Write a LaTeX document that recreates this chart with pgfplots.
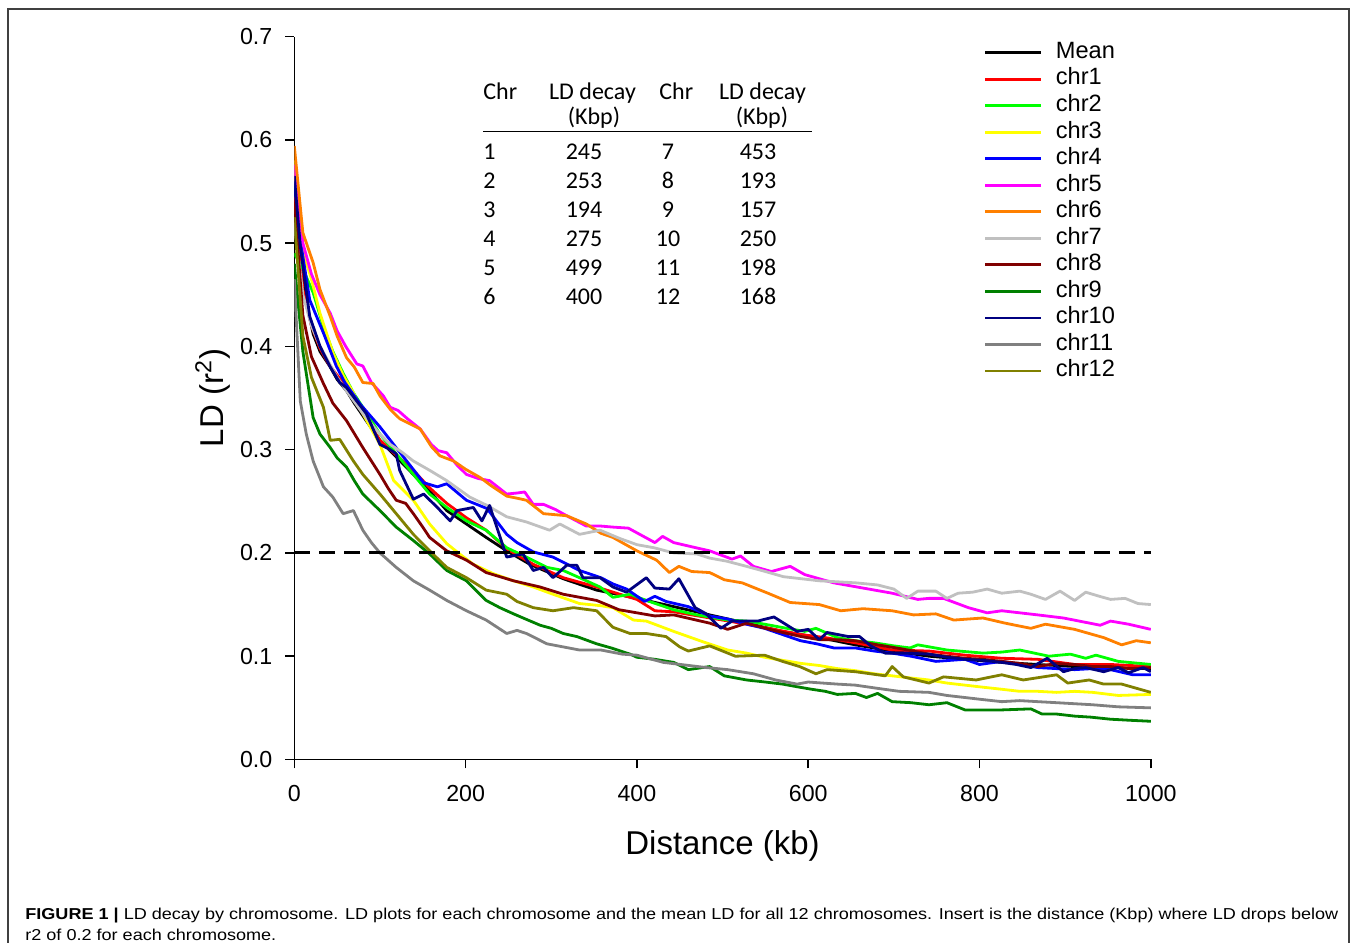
\documentclass[border=0pt]{standalone}
\usepackage{pgfplots}
\pgfplotsset{compat=1.18}
\usepackage{graphicx}
\usepackage{fontspec}
\setmainfont{Liberation Sans}
\newfontfamily\tabfont{Carlito}
\definecolor{cmean}{RGB}{0,0,0}
\definecolor{cA}{RGB}{255,0,0}
\definecolor{cB}{RGB}{0,255,0}
\definecolor{cC}{RGB}{255,255,0}
\definecolor{cD}{RGB}{0,0,255}
\definecolor{cE}{RGB}{255,0,255}
\definecolor{cF}{RGB}{255,128,0}
\definecolor{cG}{RGB}{192,192,192}
\definecolor{cH}{RGB}{128,0,0}
\definecolor{cI}{RGB}{0,128,0}
\definecolor{cJ}{RGB}{0,0,128}
\definecolor{cK}{RGB}{128,128,128}
\definecolor{cL}{RGB}{128,128,0}
\newsavebox\capbox
\newcommand\capfont{\fontsize{7.9bp}{9bp}\selectfont}
\begin{document}
\begin{tikzpicture}
\useasboundingbox (0,0) rectangle (678.5bp,471.5bp);
\draw[black!75, line width=1bp] (4.15bp,-2bp) -- (4.15bp,467bp) -- (674.25bp,467bp) -- (674.25bp,-2bp);
\begin{axis}[
  scale only axis, width=428.25bp, height=361.5bp,
  at={(147.15bp,91.75bp)}, anchor=south west,
  xmin=0, xmax=1000, ymin=0, ymax=0.7,
  axis x line*=bottom, axis y line*=left,
  xtick={0,200,400,600,800,1000},
  ytick={0,0.1,0.2,0.3,0.4,0.5,0.6,0.7},
  tick align=outside, major tick length=4.5bp,
  tick style={black, line width=0.8bp},
  axis line style={black, line width=0.8bp},
  /pgf/number format/assume math mode=true,
  scaled ticks=false,
  xticklabel style={/pgf/number format/1000 sep={}, font=\fontsize{11.6bp}{13bp}\selectfont, yshift=-5bp},
  yticklabel style={/pgf/number format/fixed, /pgf/number format/fixed zerofill, /pgf/number format/precision=1, font=\fontsize{11.6bp}{13bp}\selectfont, xshift=-3bp},
  xlabel={Distance (kb)}, ylabel={LD (r\textsuperscript{2})},
  every axis x label/.style={at={([yshift=-43.25bp]axis description cs:0.5,0)}, anchor=center, font=\fontsize{16.5bp}{18bp}\selectfont},
  every axis y label/.style={at={([xshift=-40.65bp]axis description cs:0,0.5)}, anchor=center, rotate=90, font=\fontsize{16.5bp}{18bp}\selectfont},
  no markers,
  every axis plot/.append style={line width=1.4bp, line join=round},
  legend cell align=left,
  legend image code/.code={\draw[#1] (0bp,0bp) -- (28bp,0bp); \path (34.5bp,0bp);},
  legend style={at={(0.8053,0.9959)}, anchor=north west, draw=none, fill=none, inner sep=0pt, outer sep=0pt, row sep=0pt,
    font=\fontsize{11.8bp}{13bp}\selectfont,
    nodes={inner sep=0pt, text height=9.5bp, text depth=3.76bp}},
]
\addplot[cmean] coordinates {(0,0.553) (10,0.46) (22,0.412) (30,0.395) (42,0.380) (50,0.368) (61,0.357) (70,0.345) (84,0.328) (100,0.309) (119,0.293) (139,0.276) (158,0.260) (178,0.241) (201,0.228) (224,0.215) (248,0.202) (275,0.189) (314,0.175) (353,0.164) (400,0.156) (443,0.148) (485,0.140) (528,0.132) (570,0.124) (613,0.118) (655,0.111) (698,0.105) (741,0.100) (783,0.097) (826,0.094) (868,0.092) (911,0.090) (953,0.089) (1000,0.088)};
\addlegendentry{Mean}
\addplot[cA] coordinates {(0,0.545) (10,0.455) (20,0.42) (30,0.398) (40,0.383) (50,0.372) (61,0.362) (80,0.335) (100,0.309) (120,0.294) (139,0.280) (158,0.263) (178,0.248) (201,0.234) (224,0.222) (248,0.204) (279,0.189) (314,0.176) (353,0.167) (380,0.160) (400,0.155) (421,0.144) (443,0.143) (464,0.140) (500,0.135) (528,0.131) (560,0.126) (591,0.121) (620,0.118) (655,0.113) (698,0.106) (741,0.105) (783,0.101) (826,0.098) (868,0.097) (911,0.092) (953,0.092) (1000,0.090)};
\addlegendentry{chr1}
\addplot[cB] coordinates {(0,0.49) (10,0.475) (22,0.452) (34,0.419) (45,0.395) (57,0.374) (69,0.355) (80,0.341) (100,0.315) (119,0.296) (139,0.276) (158,0.257) (178,0.244) (201,0.231) (224,0.222) (248,0.205) (271,0.196) (295,0.186) (314,0.183) (333,0.176) (357,0.167) (372,0.157) (392,0.160) (411,0.154) (443,0.145) (470,0.140) (506,0.135) (528,0.134) (549,0.131) (575,0.127) (596,0.124) (609,0.127) (634,0.118) (655,0.115) (677,0.113) (700,0.110) (719,0.108) (728,0.111) (762,0.106) (804,0.103) (826,0.104) (847,0.106) (881,0.100) (906,0.102) (924,0.098) (936,0.101) (962,0.095) (1000,0.092)};
\addlegendentry{chr2}
\addplot[cC] coordinates {(0,0.58) (7,0.50) (20,0.465) (30,0.432) (45,0.394) (57,0.372) (69,0.355) (80,0.335) (100,0.305) (116,0.270) (139,0.251) (158,0.228) (178,0.209) (193,0.199) (209,0.189) (232,0.180) (256,0.173) (279,0.167) (302,0.160) (333,0.151) (357,0.149) (372,0.147) (396,0.135) (411,0.134) (443,0.124) (477,0.114) (506,0.106) (528,0.103) (549,0.099) (570,0.096) (592,0.093) (613,0.091) (634,0.088) (655,0.086) (677,0.083) (698,0.081) (719,0.079) (741,0.077) (762,0.074) (783,0.072) (804,0.070) (826,0.068) (847,0.066) (868,0.066) (890,0.065) (911,0.066) (932,0.065) (962,0.062) (1000,0.063)};
\addlegendentry{chr3}
\addplot[cD] coordinates {(0,0.56) (7,0.503) (18,0.445) (34,0.413) (49,0.381) (59,0.365) (77,0.344) (100,0.322) (116,0.305) (135,0.285) (151,0.268) (167,0.264) (178,0.267) (201,0.251) (225,0.243) (248,0.218) (260,0.210) (279,0.201) (302,0.196) (333,0.183) (358,0.176) (372,0.170) (388,0.165) (409,0.153) (421,0.158) (434,0.153) (460,0.148) (485,0.139) (506,0.136) (528,0.131) (549,0.127) (570,0.121) (591,0.115) (610,0.112) (630,0.108) (655,0.108) (677,0.105) (698,0.103) (720,0.100) (749,0.095) (783,0.097) (800,0.092) (826,0.095) (847,0.092) (868,0.089) (890,0.088) (911,0.087) (932,0.088) (953,0.087) (979,0.082) (1000,0.082)};
\addlegendentry{chr4}
\addplot[cE] coordinates {(0,0.576) (10,0.50) (20,0.47) (30,0.45) (42,0.432) (50,0.415) (60,0.40) (73,0.383) (80,0.381) (90,0.365) (104,0.352) (112,0.341) (121,0.338) (132,0.330) (147,0.320) (160,0.305) (168,0.299) (178,0.297) (190,0.285) (201,0.276) (215,0.272) (228,0.270) (248,0.257) (260,0.258) (269,0.259) (279,0.247) (291,0.247) (305,0.242) (318,0.236) (341,0.226) (358,0.226) (372,0.225) (390,0.224) (421,0.210) (430,0.216) (443,0.210) (469,0.205) (485,0.202) (511,0.194) (521,0.197) (536,0.187) (557,0.182) (579,0.187) (596,0.179) (630,0.171) (664,0.166) (698,0.161) (728,0.155) (741,0.156) (758,0.156) (787,0.147) (809,0.142) (826,0.144) (868,0.140) (898,0.137) (941,0.130) (953,0.134) (974,0.131) (1000,0.126)};
\addlegendentry{chr5}
\addplot[cF] coordinates {(0,0.594) (10,0.51) (22,0.481) (30,0.455) (42,0.429) (50,0.41) (61,0.389) (70,0.38) (80,0.365) (92,0.364) (100,0.352) (112,0.339) (123,0.330) (135,0.325) (147,0.320) (160,0.303) (170,0.294) (186,0.289) (200,0.281) (217,0.273) (230,0.265) (248,0.255) (260,0.253) (271,0.251) (291,0.238) (305,0.237) (318,0.236) (341,0.228) (358,0.219) (372,0.215) (400,0.202) (423,0.193) (438,0.181) (449,0.187) (464,0.182) (485,0.181) (502,0.174) (523,0.171) (553,0.161) (579,0.152) (613,0.150) (638,0.144) (664,0.146) (698,0.144) (723,0.140) (749,0.141) (770,0.135) (804,0.137) (830,0.132) (860,0.127) (877,0.131) (911,0.126) (945,0.118) (966,0.111) (983,0.115) (1000,0.113)};
\addlegendentry{chr6}
\addplot[cG] coordinates {(0,0.52) (10,0.45) (20,0.42) (30,0.40) (40,0.385) (50,0.37) (60,0.358) (80,0.335) (100,0.315) (112,0.305) (125,0.298) (139,0.289) (158,0.280) (178,0.270) (205,0.254) (225,0.246) (248,0.235) (271,0.230) (298,0.222) (310,0.228) (333,0.218) (357,0.222) (380,0.214) (400,0.208) (420,0.205) (443,0.200) (470,0.199) (485,0.195) (505,0.192) (528,0.187) (550,0.182) (571,0.177) (592,0.175) (613,0.173) (635,0.172) (656,0.171) (681,0.169) (700,0.165) (715,0.156) (728,0.163) (749,0.163) (762,0.156) (775,0.161) (792,0.162) (809,0.165) (826,0.161) (847,0.163) (860,0.160) (877,0.155) (894,0.163) (911,0.154) (924,0.162) (940,0.158) (953,0.155) (970,0.156) (985,0.151) (1000,0.150)};
\addlegendentry{chr7}
\addplot[cH] coordinates {(0,0.54) (10,0.43) (20,0.39) (34,0.364) (45,0.345) (61,0.328) (80,0.302) (100,0.276) (110,0.262) (119,0.251) (130,0.248) (139,0.238) (150,0.225) (158,0.215) (178,0.202) (201,0.193) (224,0.181) (256,0.173) (287,0.167) (314,0.160) (353,0.154) (379,0.145) (400,0.142) (421,0.139) (443,0.140) (464,0.136) (485,0.132) (506,0.126) (528,0.132) (550,0.127) (570,0.123) (592,0.119) (613,0.116) (635,0.116) (655,0.115) (681,0.111) (710,0.107) (741,0.102) (762,0.100) (783,0.098) (804,0.097) (826,0.095) (847,0.093) (868,0.090) (890,0.093) (911,0.092) (932,0.090) (953,0.090) (975,0.088) (1000,0.089)};
\addlegendentry{chr8}
\addplot[cI] coordinates {(0,0.48) (10,0.395) (22,0.331) (30,0.315) (42,0.302) (50,0.292) (61,0.283) (70,0.27) (80,0.257) (90,0.249) (100,0.241) (119,0.225) (139,0.212) (158,0.199) (178,0.183) (201,0.173) (224,0.154) (240,0.147) (256,0.141) (270,0.136) (287,0.130) (300,0.127) (314,0.122) (330,0.119) (353,0.112) (370,0.108) (392,0.102) (400,0.099) (421,0.097) (443,0.094) (460,0.087) (485,0.090) (502,0.081) (528,0.077) (550,0.075) (570,0.073) (590,0.070) (604,0.068) (620,0.066) (634,0.063) (655,0.064) (668,0.060) (681,0.064) (698,0.056) (720,0.055) (741,0.053) (762,0.055) (783,0.048) (804,0.048) (826,0.048) (860,0.049) (873,0.044) (890,0.044) (911,0.042) (930,0.041) (953,0.039) (975,0.038) (1000,0.037)};
\addlegendentry{chr9}
\addplot[cJ] coordinates {(0,0.565) (7,0.497) (18,0.429) (30,0.400) (42,0.380) (53,0.365) (61,0.360) (72,0.348) (84,0.335) (100,0.305) (112,0.300) (119,0.296) (123,0.280) (139,0.252) (151,0.257) (167,0.244) (182,0.231) (190,0.241) (209,0.244) (219,0.231) (228,0.246) (248,0.196) (267,0.199) (279,0.183) (291,0.186) (302,0.176) (318,0.188) (330,0.188) (337,0.176) (357,0.176) (372,0.167) (388,0.162) (411,0.176) (421,0.166) (438,0.165) (449,0.175) (468,0.147) (481,0.141) (498,0.127) (511,0.134) (541,0.134) (560,0.138) (587,0.124) (600,0.126) (613,0.116) (622,0.123) (647,0.119) (660,0.119) (673,0.110) (690,0.103) (715,0.103) (741,0.102) (762,0.099) (783,0.097) (804,0.096) (826,0.094) (843,0.092) (860,0.089) (879,0.098) (898,0.085) (911,0.088) (924,0.089) (945,0.085) (962,0.089) (974,0.084) (991,0.089) (1000,0.085)};
\addlegendentry{chr10}
\addplot[cK] coordinates {(0,0.465) (7,0.347) (14,0.315) (22,0.289) (34,0.264) (45,0.254) (57,0.238) (69,0.241) (80,0.222) (90,0.21) (100,0.200) (119,0.186) (139,0.173) (158,0.164) (178,0.154) (201,0.144) (224,0.135) (248,0.122) (260,0.125) (271,0.122) (295,0.112) (314,0.109) (333,0.106) (358,0.106) (383,0.102) (400,0.101) (413,0.098) (431,0.094) (451,0.092) (481,0.089) (506,0.087) (536,0.083) (562,0.077) (587,0.073) (600,0.075) (634,0.073) (655,0.072) (680,0.069) (706,0.066) (741,0.065) (762,0.062) (783,0.060) (804,0.058) (826,0.056) (847,0.057) (868,0.056) (890,0.055) (911,0.054) (932,0.053) (962,0.051) (1000,0.050)};
\addlegendentry{chr11}
\addplot[cL] coordinates {(0,0.525) (10,0.41) (20,0.37) (34,0.341) (42,0.309) (53,0.310) (69,0.289) (80,0.276) (100,0.257) (119,0.238) (139,0.218) (158,0.202) (178,0.186) (201,0.176) (224,0.164) (248,0.160) (260,0.153) (279,0.147) (302,0.144) (326,0.147) (353,0.144) (372,0.128) (392,0.122) (411,0.122) (434,0.119) (450,0.109) (460,0.105) (485,0.110) (515,0.100) (549,0.101) (570,0.095) (590,0.090) (609,0.083) (622,0.087) (655,0.085) (690,0.081) (698,0.090) (711,0.080) (741,0.074) (758,0.080) (796,0.077) (826,0.082) (851,0.077) (890,0.082) (903,0.074) (928,0.077) (945,0.073) (966,0.073) (1000,0.065)};
\addlegendentry{chr12}
\addplot[black, line width=1.5bp, dash pattern=on 8bp off 4.5bp, forget plot] coordinates {(0,0.2) (1000,0.2)};
\end{axis}
% inset table
\begin{scope}[every node/.style={inner sep=0pt, font=\tabfont\fontsize{12bp}{14bp}\selectfont}]
\node[anchor=base west] at (241.5bp,421.5bp) {Chr};
\node[anchor=base] at (296.25bp,421.5bp) {LD decay};
\node[anchor=base] at (297bp,409bp) {(Kbp)};
\node[anchor=base west] at (329.5bp,421.5bp) {Chr};
\node[anchor=base] at (381.25bp,421.5bp) {LD decay};
\node[anchor=base] at (381bp,409bp) {(Kbp)};
\draw[black, line width=0.7bp] (241.5bp,405.65bp) -- (406bp,405.65bp);
\foreach \a/\b/\c/\d [count=\i from 0] in {1/245/7/453, 2/253/8/193, 3/194/9/157, 4/275/10/250, 5/499/11/198, 6/400/12/168} {
  \node[anchor=base west] at (241.5bp,391.5bp-\i*14.5bp) {\a};
  \node[anchor=base] at (292bp,391.5bp-\i*14.5bp) {\b};
  \node[anchor=base] at (334bp,391.5bp-\i*14.5bp) {\c};
  \node[anchor=base] at (379bp,391.5bp-\i*14.5bp) {\d};
}
\end{scope}
% caption
\node[anchor=base west, inner sep=0pt] at (12.5bp,11.85bp) {\sbox\capbox{\capfont\textbf{FIGURE 1 |} LD decay by chromosome. LD plots for each chromosome and the mean LD for all 12 chromosomes. Insert is the distance (Kbp) where LD drops below}\pgfmathsetmacro\capscale{656.5bp/\the\wd\capbox}\xdef\capscaleG{\capscale}\scalebox{\capscale}[1]{\usebox\capbox}};
\node[anchor=base west, inner sep=0pt] at (12.5bp,1.15bp) {\scalebox{\capscaleG}[1]{\capfont r2 of 0.2 for each chromosome.}};
\end{tikzpicture}
\end{document}
